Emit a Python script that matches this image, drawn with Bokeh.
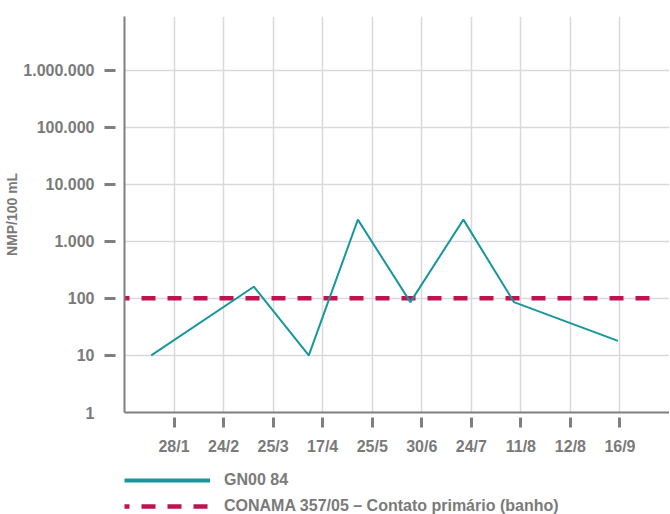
from bokeh.plotting import figure
from bokeh.layouts import column
from bokeh.models import FixedTicker, Range1d, Legend, LegendItem, LogAxis
from bokeh.embed import file_html
from bokeh.resources import INLINE

# ---- data ----
date_ticks = [1, 2, 3, 4, 5, 6, 7, 8, 9, 10]
date_labels = ["28/1", "24/2", "25/3", "17/4", "25/5", "30/6", "24/7", "11/8", "12/8", "16/9"]
sample_x = [0.54, 2.61, 3.72, 4.71, 5.77, 6.84, 7.86, 9.96]
gn00_84 = [10, 160, 10, 2400, 86, 2400, 86, 18]
limit_x = [0, 10.74]
conama_limit = [100, 100]
y_mark_ticks = [10, 100, 1000, 10000, 100000, 1000000]
y_label_ticks = [1, 10, 100, 1000, 10000, 100000, 1000000]
y_tick_labels = ["1", "10", "100", "1.000", "10.000", "100.000", "1.000.000"]
series_name = "GN00 84"
limit_name = "CONAMA 357/05 \u2013 Contato prim\u00e1rio (banho)"

TEAL = "#17979D"
CRIMSON = "#C0124F"
GRAY = "#7a7a7a"
AXIS = "#7f7f7f"
GRID = "#d9d9d9"
FONT = "Liberation Sans"

p = figure(frame_width=545, frame_height=396, y_axis_type="log",
           x_range=Range1d(0, 11), y_range=Range1d(1, 8.7e6),
           output_backend="svg", toolbar_location=None,
           min_border_left=124, min_border_top=16, min_border_right=0,
           min_border_bottom=44)
p.outline_line_color = None
p.background_fill_color = "white"

# grids
p.xgrid.grid_line_color = GRID
p.ygrid.grid_line_color = GRID
p.xgrid.grid_line_width = 1.5
p.ygrid.grid_line_width = 1.5

# x axis
xa = p.xaxis[0]
xa.ticker = FixedTicker(ticks=date_ticks)
xa.major_label_overrides = {t: l for t, l in zip(date_ticks, date_labels)}
xa.minor_tick_line_color = None
xa.major_tick_in = -5
xa.major_tick_out = 15
xa.major_tick_line_width = 3
xa.major_tick_line_color = AXIS
xa.axis_line_color = AXIS
xa.axis_line_width = 2
xa.major_label_standoff = 10
xa.major_label_text_font = FONT
xa.major_label_text_font_style = "bold"
xa.major_label_text_font_size = "16px"
xa.major_label_text_color = GRAY

# y axis (axis line + detached tick marks)
ya = p.yaxis[0]
ya.ticker = FixedTicker(ticks=y_mark_ticks)
ya.major_label_overrides = {t: "" for t in y_mark_ticks}
ya.minor_tick_line_color = None
ya.major_tick_in = -9
ya.major_tick_out = 20
ya.major_tick_line_width = 3
ya.major_tick_line_color = AXIS
ya.axis_line_color = AXIS
ya.axis_line_width = 2
ya.major_label_standoff = 0

# y axis labels (outer)
yb = LogAxis(ticker=FixedTicker(ticks=y_label_ticks),
             major_label_overrides={t: l for t, l in zip(y_label_ticks, y_tick_labels)},
             axis_line_color=None, major_tick_line_color=None,
             minor_tick_line_color=None, major_tick_in=0, major_tick_out=0,
             major_label_standoff=10,
             major_label_text_font=FONT, major_label_text_font_style="bold",
             major_label_text_font_size="16px", major_label_text_color=GRAY,
             axis_label="NMP/100 mL", axis_label_standoff=0,
             axis_label_text_font=FONT, axis_label_text_font_style="bold",
             axis_label_text_font_size="14px", axis_label_text_color=GRAY)
p.add_layout(yb, "left")

# data
p.line(limit_x, conama_limit, line_color=CRIMSON, line_width=4.5,
       line_dash="14 12", line_dash_offset=9)
p.line(sample_x, gn00_84, line_color=TEAL, line_width=2)

# ---- legend strip (separate figure below the chart) ----
lg = figure(width=669, height=58, x_range=Range1d(0, 1), y_range=Range1d(0, 1),
            x_axis_type=None, y_axis_type=None,
            output_backend="svg", toolbar_location=None,
            min_border_left=0, min_border_right=0, min_border_top=0,
            min_border_bottom=0)
lg.outline_line_color = None
lg.xgrid.visible = False
lg.ygrid.visible = False

# same series, drawn out of this strip's view; used only for the legend keys
leg_teal = lg.line(sample_x, gn00_84, line_color=TEAL, line_width=4)
leg_red = lg.line(limit_x, conama_limit, line_color=CRIMSON, line_width=4.5,
                  line_dash="14 12", line_dash_offset=9)

legend = Legend(items=[LegendItem(label=series_name, renderers=[leg_teal]),
                       LegendItem(label=limit_name, renderers=[leg_red])],
                location=(0, 0), orientation="vertical",
                glyph_width=86, glyph_height=18, label_height=18,
                label_standoff=14, spacing=8, padding=0, margin=0,
                background_fill_alpha=0, border_line_alpha=0,
                label_text_font=FONT, label_text_font_style="bold",
                label_text_font_size="16px", label_text_color=GRAY)
lg.add_layout(legend, "center")

layout = column(p, lg, spacing=0)
open("out.html", "w").write(file_html(layout, INLINE))
